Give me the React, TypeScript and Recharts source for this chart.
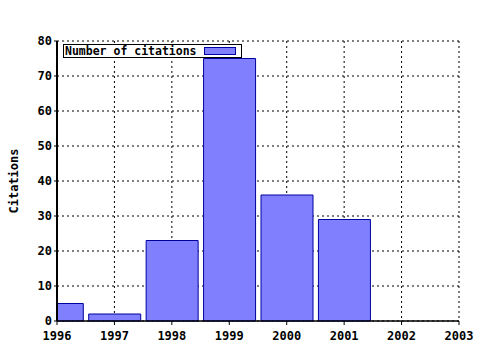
import React from "react"
import { BarChart, Bar, XAxis, YAxis, CartesianGrid, Legend } from "recharts"

const years = [1996, 1997, 1998, 1999, 2000, 2001]
const citations = [5, 2, 23, 75, 36, 29]
const xTicks = [1996, 1997, 1998, 1999, 2000, 2001, 2002, 2003]
const yTicks = [0, 10, 20, 30, 40, 50, 60, 70, 80]

const data = years.map((year, i) => ({ year, citations: citations[i] }))

// minor ticks every 1/5 year, decoration only
const minorTicks: number[] = []
for (let i = 0; i <= 35; i++) minorTicks.push(1996 + i / 5)

const font = "'DejaVu Sans Mono', monospace"
const tickStyle = { fill: "#000", fontSize: 12, fontWeight: "bold", fontFamily: font }

function LegendBox() {
  return (
    <div
      style={{
        width: 177,
        height: 12,
        border: "1px solid #000",
        background: "#fff",
        display: "flex",
        alignItems: "center",
        fontFamily: font,
        fontWeight: "bold",
        fontSize: 11.5,
        lineHeight: "12px",
        boxSizing: "content-box",
      }}
    >
      <span style={{ marginLeft: 1, width: 139 }}>Number of citations</span>
      <span
        style={{
          display: "inline-block",
          width: 30,
          height: 6,
          background: "#8080ff",
          border: "1px solid #0000a0",
        }}
      />
    </div>
  )
}

export default function App() {
  return (
    <div style={{ position: "absolute", left: 0, top: 0, width: 480, height: 350, background: "#fff" }}>
      <BarChart width={480} height={350} data={data} margin={{ top: 41, right: 21, bottom: 0, left: 0 }}>
        <CartesianGrid stroke="#000" strokeDasharray="2 3" />
        <XAxis
          dataKey="year"
          type="number"
          domain={[1996, 2003]}
          ticks={xTicks}
          interval={0}
          allowDataOverflow
          height={29}
          tickSize={4}
          tickMargin={6}
          tick={tickStyle}
          axisLine={{ stroke: "#000", strokeWidth: 1.5 }}
          tickLine={{ stroke: "#000" }}
        />
        <XAxis
          xAxisId="bottomMinor"
          type="number"
          domain={[1996, 2003]}
          ticks={minorTicks}
          interval={0}
          allowDataOverflow
          height={0}
          tickSize={2}
          tick={false}
          axisLine={false}
          tickLine={{ stroke: "#000" }}
        />
        <XAxis
          xAxisId="top"
          orientation="top"
          type="number"
          domain={[1996, 2003]}
          ticks={xTicks}
          interval={0}
          allowDataOverflow
          height={0}
          tickSize={3}
          tick={false}
          axisLine={{ stroke: "#000", strokeWidth: 1.5 }}
          tickLine={{ stroke: "#000" }}
        />
        <XAxis
          xAxisId="topMinor"
          orientation="top"
          type="number"
          domain={[1996, 2003]}
          ticks={minorTicks}
          interval={0}
          allowDataOverflow
          height={0}
          mirror
          tickSize={2}
          tick={false}
          axisLine={false}
          tickLine={{ stroke: "#000" }}
        />
        <YAxis
          domain={[0, 80]}
          ticks={yTicks}
          interval={0}
          width={57}
          tickSize={3}
          tickMargin={2}
          tick={tickStyle}
          axisLine={{ stroke: "#000", strokeWidth: 2 }}
          tickLine={{ stroke: "#000" }}
          label={{
            value: "Citations",
            angle: -90,
            position: "insideLeft",
            offset: 14,
            style: { fill: "#000", fontSize: 12, fontWeight: "bold", fontFamily: font, textAnchor: "middle" },
          }}
        />
        <YAxis
          yAxisId="right"
          orientation="right"
          domain={[0, 80]}
          width={0}
          tick={false}
          tickLine={false}
          axisLine={{ stroke: "#000", strokeWidth: 2 }}
        />
        <Legend
          layout="vertical"
          align="center"
          verticalAlign="middle"
          wrapperStyle={{ left: 63, top: 44, width: 180 }}
          content={() => <LegendBox />}
        />
        <Bar
          dataKey="citations"
          name="Number of citations"
          barSize={52}
          fill="#8080ff"
          stroke="#0000a0"
          strokeWidth={1}
          isAnimationActive={false}
        />
      </BarChart>
    </div>
  )
}
